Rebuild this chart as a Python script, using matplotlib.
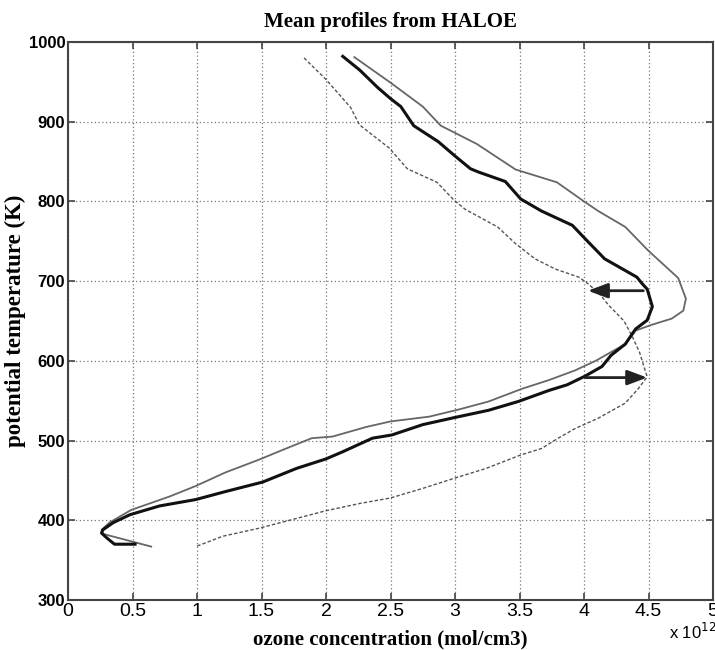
import matplotlib
matplotlib.use("Agg")
import matplotlib.pyplot as plt

# ---- data (ozone in units of 1e12 mol/cm3, theta in K) ----
mean_x = [2.13, 2.26, 2.40, 2.50, 2.58, 2.68, 2.87, 3.00, 3.12, 3.18, 3.39, 3.51, 3.67, 3.91,
          4.01, 4.16, 4.41, 4.45, 4.49, 4.53, 4.49, 4.40, 4.32, 4.21, 4.14, 4.01, 3.87, 3.73,
          3.49, 3.26, 3.00, 2.75, 2.51, 2.36, 2.13, 2.00, 1.77, 1.51, 1.22, 0.99, 0.71, 0.48,
          0.35, 0.27, 0.26, 0.30, 0.36, 0.52]
mean_t = [982, 965, 943, 929, 919, 895, 875, 857, 841, 837, 825, 803, 788, 770,
          753, 728, 705, 697, 690, 668, 651, 640, 621, 607, 593, 581, 570, 563,
          549, 538, 529, 520, 507, 503, 486, 477, 465, 448, 436, 426, 418, 407,
          397, 388, 384, 378, 370, 370]

thin_x = [2.22, 2.50, 2.75, 2.89, 3.00, 3.17, 3.47, 3.79, 4.00, 4.11, 4.32, 4.50, 4.73, 4.79,
          4.77, 4.68, 4.52, 4.40, 4.32, 4.21, 4.09, 3.93, 3.73, 3.52, 3.26, 3.03, 2.80, 2.50,
          2.31, 2.05, 1.89, 1.69, 1.48, 1.22, 0.99, 0.79, 0.49, 0.32, 0.26, 0.27, 0.645]
thin_t = [981, 949, 919, 895, 886, 872, 840, 824, 800, 788, 768, 738, 704, 678,
          663, 653, 645, 638, 621, 611, 600, 588, 576, 565, 549, 539, 530, 524,
          517, 505, 503, 490, 476, 460, 443, 430, 413, 397, 388, 383, 367]

dash_x = [1.83, 2.00, 2.19, 2.26, 2.49, 2.63, 2.86, 2.99, 3.08, 3.33, 3.47, 3.62, 3.78, 3.96,
          4.03, 4.12, 4.19, 4.31, 4.37, 4.43, 4.47, 4.49, 4.42, 4.32, 4.11, 3.93, 3.80, 3.67,
          3.51, 3.24, 3.00, 2.75, 2.50, 2.26, 2.00, 1.74, 1.48, 1.20, 0.99]
dash_t = [980, 953, 918, 896, 867, 841, 824, 802, 790, 768, 747, 728, 715, 705,
          697, 684, 670, 650, 632, 611, 590, 580, 565, 547, 528, 515, 503, 490,
          482, 465, 453, 440, 428, 421, 412, 401, 390, 380, 367]

# arrows: (start_x, start_t, end_x, end_t)
arrow_up = (4.46, 688, 4.03, 688)
arrow_low = (4.01, 579, 4.49, 579)

xticks = [0, 0.5, 1, 1.5, 2, 2.5, 3, 3.5, 4, 4.5, 5]
xticklabels = ["0", "0.5", "1", "1.5", "2", "2.5", "3", "3.5", "4", "4.5", "5"]
yticks = [300, 400, 500, 600, 700, 800, 900, 1000]

fig = plt.figure(figsize=(7.15, 6.5), dpi=100)
ax = fig.add_axes([68 / 715, 1 - 600 / 650, (713 - 68) / 715, (600 - 42) / 650])

ax.plot(dash_x, dash_t, color="#555555", lw=1.0, ls=(0, (2.5, 1.5)))
ax.plot(thin_x, thin_t, color="#666666", lw=1.3)
ax.plot(mean_x, mean_t, color="#111111", lw=2.2)

for a in (arrow_up, arrow_low):
    ax.annotate("", xy=(a[2], a[3]), xytext=(a[0], a[1]),
                arrowprops=dict(arrowstyle="-|>,head_length=1.2,head_width=0.45",
                                color="#222222", lw=2.0, shrinkA=0, shrinkB=0))

ax.set_xlim(0, 5)
ax.set_ylim(300, 1000)
ax.set_xticks(xticks)
ax.set_yticks(yticks)
ax.set_xticklabels(xticklabels, family=["Liberation Sans Narrow", "Liberation Sans"], fontsize=14)
ax.set_yticklabels([str(v) for v in yticks], family="Liberation Sans", fontsize=12, fontweight="bold")
ax.grid(True, color="#777777", ls=(0, (1, 2)), lw=0.9)
ax.tick_params(direction="in", top=True, right=True, length=5, width=1.2, color="#444444", pad=2)
for s in ax.spines.values():
    s.set_color("#444444")
    s.set_linewidth(1.5)

ax.set_title("Mean profiles from HALOE", family="Liberation Serif", fontweight="bold",
             fontsize=15, pad=11)
ax.set_xlabel("ozone concentration (mol/cm3)", family="Liberation Serif", fontweight="bold",
              fontsize=15, labelpad=7)
ax.set_ylabel("potential temperature (K)", family="Liberation Serif", fontweight="bold",
              fontsize=16.5, labelpad=2)
fig.text(669 / 715, 1 - 632 / 650, r"x 10$^{12}$", family=["Liberation Sans Narrow", "Liberation Sans"],
         fontsize=12, va="center", ha="left")

fig.savefig("out.png", dpi=100)
